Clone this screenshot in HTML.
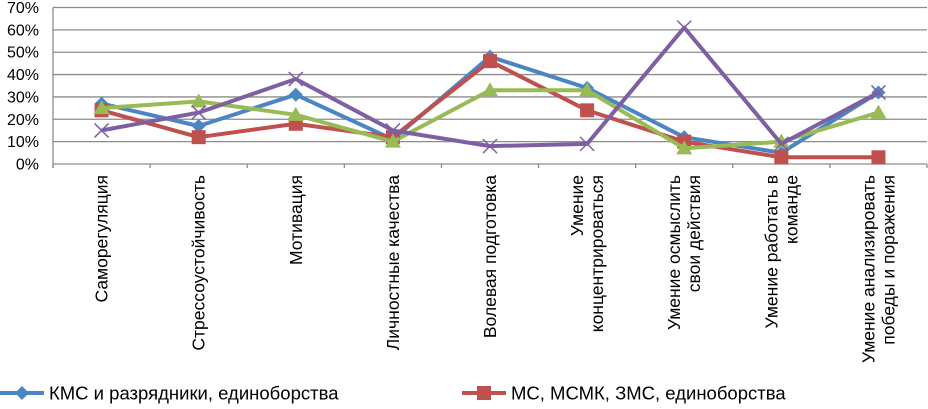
<!DOCTYPE html>
<html><head><meta charset="utf-8"><style>
body{margin:0;background:#fff}
text{font-family:"Liberation Sans",Arial,sans-serif;fill:#000}
</style></head><body>
<svg width="928" height="404" id="chart"></svg>
<script>
const categories=["Саморегуляция","Стрессоустойчивость","Мотивация","Личностные качества","Волевая подготовка","Умение|концентрироваться","Умение осмыслить|свои действия","Умение работать в|команде","Умение анализировать|победы и поражения"];
const seriesNames=["КМС и разрядники, единоборства","МС, МСМК, ЗМС, единоборства","Series3","Series4"];
const kms=[27,17,31,11,48,34,12,5,32];
const ms=[24,12,18,12,46,24,10,3,3];
const green=[25,28,22,10,33,33,7,10,23];
const purple=[15,23,38,15,8,9,61,9,32];
const yTicks=[0,10,20,30,40,50,60,70];
const NS="http://www.w3.org/2000/svg";
const svg=document.getElementById('chart');
const x0=53,x1=927,y0=164,y1=7.5;
const bw=(x1-x0)/categories.length;
const X=i=>x0+bw*(i+0.5);
const Y=v=>y0-(v/70)*(y0-y1);
function el(t,a,p){const e=document.createElementNS(NS,t);for(const k in a)e.setAttribute(k,a[k]);(p||svg).appendChild(e);return e;}
yTicks.forEach(t=>{
 const g=el('line',{x1:x0,x2:x1,y1:Y(t),y2:Y(t),stroke:'#8c8c8c','stroke-width':1.3});
 
 
 const tx=el('text',{x:39,y:Y(t)+5.5,'text-anchor':'end','font-size':16});
 tx.textContent=t+'%';
 
 
});
el('line',{x1:x0,x2:x0,y1:y1,y2:y0+4,stroke:'#8c8c8c','stroke-width':1.3});
for(let i=0;i<=categories.length;i++){el('line',{x1:x0+bw*i,x2:x0+bw*i,y1:y0,y2:y0+4,stroke:'#8c8c8c','stroke-width':1.3});}
categories.forEach((c,i)=>{
 const lines=c.split('|');
 const t=el('text',{'font-size':17.5,'text-anchor':'end',transform:`translate(${X(i)},175) rotate(-90)`});
 
 
 lines.forEach((l,j)=>{const s=el('tspan',{x:0,y:(j-(lines.length-1)/2)*20+6},t);s.textContent=l;});
});
function marker(type,x,y,col,g){
 if(type==='d')el('polygon',{points:`${x},${y-7} ${x+7},${y} ${x},${y+7} ${x-7},${y}`,fill:col},g);
 else if(type==='s')el('rect',{x:x-7,y:y-7,width:14,height:14,fill:col},g);
 else if(type==='t')el('polygon',{points:`${x},${y-8} ${x+8},${y+6} ${x-8},${y+6}`,fill:col},g);
 else {el('path',{d:`M${x-7},${y-7}L${x+7},${y+7}M${x-7},${y+7}L${x+7},${y-7}`,stroke:col,'stroke-width':1.5},g);}
}
const series=[[purple,'#7e5fa2','x','series-4-line'],[green,'#98bb55','t','series-3-line'],[ms,'#c0504d','s','series-ms-line'],[kms,'#4a86c5','d','series-kms-line']];
[series[3],series[2],series[1],series[0]].forEach(([d,col,m,n])=>{
 const g=el('g',{});
 
 
 el('polyline',{points:d.map((v,i)=>X(i)+','+Y(v)).join(' '),fill:'none',stroke:col,'stroke-width':4,'stroke-linejoin':'round'},g);
 d.forEach((v,i)=>marker(m,X(i),Y(v),col,g));
});
[[0,'#4a86c5','d',0],[1,'#c0504d','s',462]].forEach(([k,col,m,ox])=>{
 const g=el('g',{});
 
 
 el('line',{x1:ox,x2:ox+44,y1:393,y2:393,stroke:col,'stroke-width':4},g);
 marker(m,ox+22,393,col,g);
 const t=el('text',{x:ox+49,y:399.5,'font-size':18.5},g);t.textContent=seriesNames[k];
});
</script>
</body></html>
